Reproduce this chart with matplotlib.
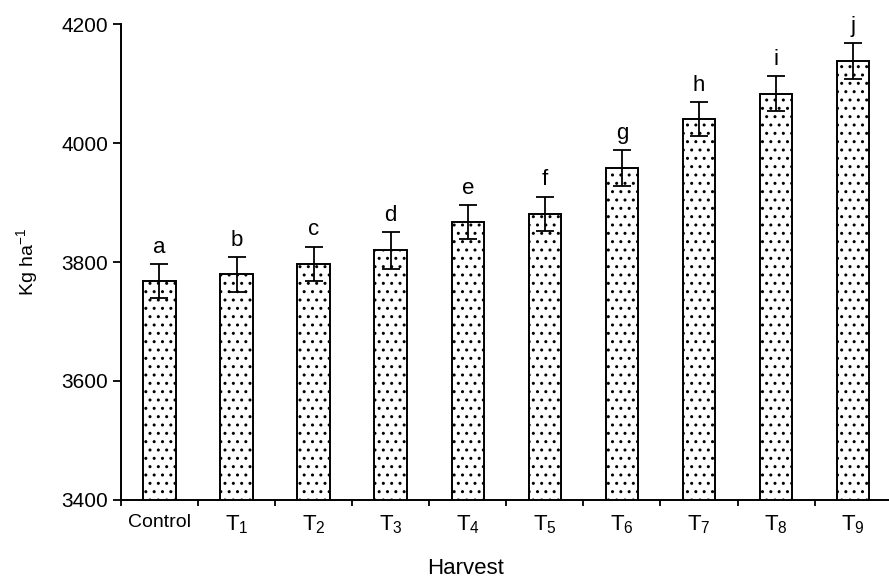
import matplotlib
matplotlib.use("Agg")
import matplotlib.pyplot as plt
import numpy as np

plt.rcParams['font.family'] = ['Liberation Sans', 'DejaVu Sans']
plt.rcParams['mathtext.fontset'] = 'custom'
plt.rcParams['mathtext.rm'] = 'Liberation Sans'
plt.rcParams['mathtext.it'] = 'Liberation Sans'
plt.rcParams['hatch.color'] = '#333333'
plt.rcParams['hatch.linewidth'] = 1.0

categories = ["Control", "T1", "T2", "T3", "T4", "T5", "T6", "T7", "T8", "T9"]
tick_labels = ["Control", r"$\mathrm{T}_{1}$", r"$\mathrm{T}_{2}$", r"$\mathrm{T}_{3}$",
               r"$\mathrm{T}_{4}$", r"$\mathrm{T}_{5}$", r"$\mathrm{T}_{6}$",
               r"$\mathrm{T}_{7}$", r"$\mathrm{T}_{8}$", r"$\mathrm{T}_{9}$"]
means = [3768, 3779, 3797, 3820, 3867, 3881, 3958, 4040, 4083, 4138]
errors = [29, 29, 29, 31, 29, 29, 30, 29, 30, 30]
letters = ["a", "b", "c", "d", "e", "f", "g", "h", "i", "j"]

fig = plt.figure(figsize=(8.89, 5.83), dpi=100)
ax = fig.add_axes([0.136, 0.1424, 0.867, 0.8164])

x = np.arange(len(categories))
ax.bar(x, means, width=0.42, color='white', edgecolor='black', linewidth=1.4,
       hatch='..', zorder=2)
ax.errorbar(x, means, yerr=errors, fmt='none', ecolor='black', elinewidth=1.3,
            capsize=6.5, capthick=1.3, zorder=3)

for xi, m, e, lab in zip(x, means, errors, letters):
    ax.annotate(lab, (xi, m + e), xytext=(0, 8), textcoords='offset points',
                ha='center', va='baseline', fontsize=16)

ax.set_ylim(3400, 4200)
ax.set_xlim(-0.5, 9.5)
ax.set_yticks([3400, 3600, 3800, 4000, 4200])
ax.tick_params(axis='y', direction='out', length=6, width=1.3, labelsize=15, pad=3)

ax.set_xticks(x)
ax.set_xticklabels(tick_labels)
for i, t in enumerate(ax.get_xticklabels()):
    t.set_fontsize(14 if i == 0 else 16)
ax.set_xticks(np.arange(-0.5, 10, 1.0), minor=True)
ax.tick_params(axis='x', which='major', length=0, pad=10)
ax.tick_params(axis='x', which='minor', direction='out', length=4, width=1.3)

for s in ['top', 'right']:
    ax.spines[s].set_visible(False)
for s in ['left', 'bottom']:
    ax.spines[s].set_linewidth(1.4)

ax.set_ylabel(r"Kg ha$^{-1}$", fontsize=14)
ax.yaxis.set_label_coords(-0.105, 0.5)
xl = ax.set_xlabel("Harvest", fontsize=16)
xl.set_verticalalignment('center')
ax.xaxis.set_label_coords(0.447, -0.145)

fig.savefig("out.png", dpi=100)
